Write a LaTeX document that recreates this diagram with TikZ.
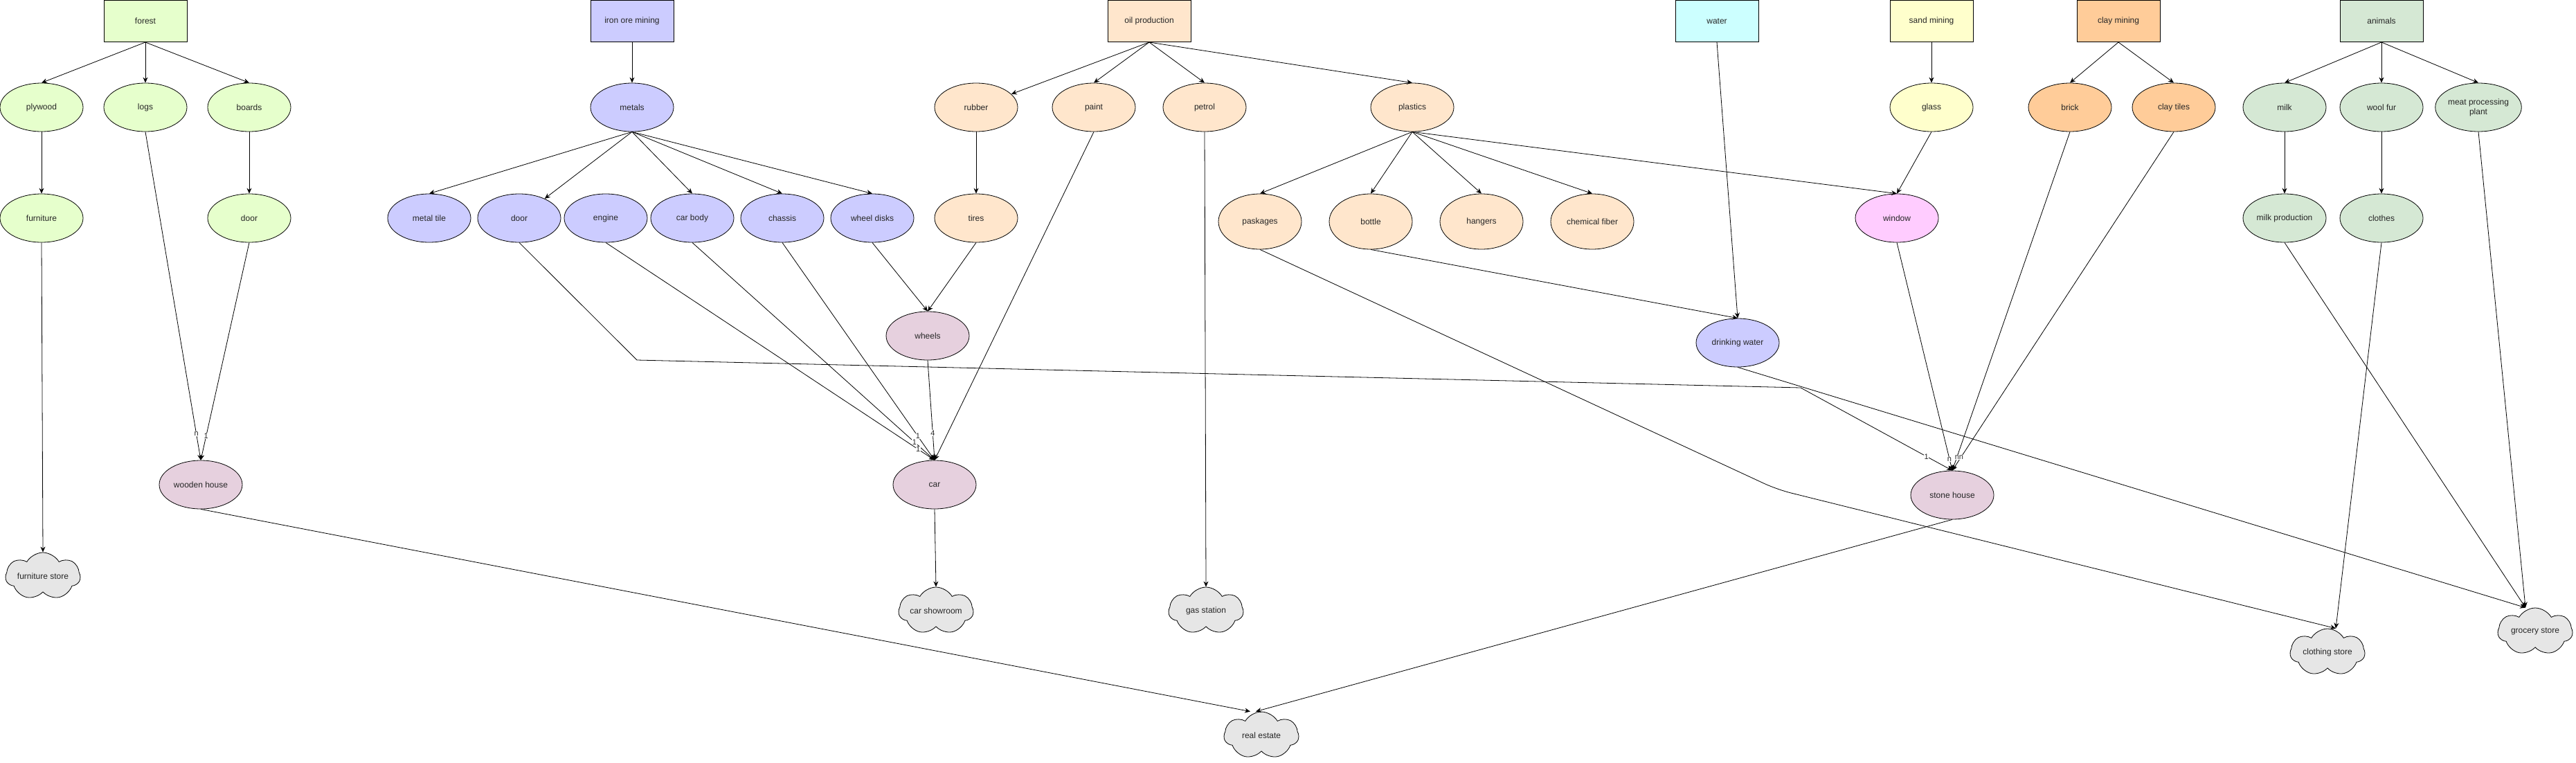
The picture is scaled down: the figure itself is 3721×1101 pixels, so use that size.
\documentclass[tikz,border=0pt]{standalone}
\usepackage{fontspec}
\setmainfont{Liberation Sans}
\usetikzlibrary{shapes.geometric,shapes.symbols,arrows.meta,calc}
\definecolor{cgreen}{HTML}{E6FFCC}
\definecolor{cblue}{HTML}{CCCCFF}
\definecolor{corange}{HTML}{FFE6CC}
\definecolor{ccyan}{HTML}{CCFFFF}
\definecolor{cyellow}{HTML}{FFFFCC}
\definecolor{cpink}{HTML}{FFCCFF}
\definecolor{cclay}{HTML}{FFCC99}
\definecolor{canimal}{HTML}{D5E8D4}
\definecolor{cmauve}{HTML}{E6D0DE}
\definecolor{cgrey}{HTML}{E6E6E6}
\begin{document}
\begin{tikzpicture}[x=1pt,y=-1pt,
  every node/.style={font=\fontsize{12}{14}\selectfont, text=black!85},
  srcbox/.style={draw, line width=1pt, minimum width=120pt, minimum height=60pt, inner sep=0pt},
  item/.style={draw, ellipse, line width=0.8pt, minimum width=120pt, minimum height=70pt, inner sep=0pt},
  tall/.style={item, minimum height=80pt},
  store/.style={draw, cloud, cloud puffs=7, cloud puff arc=120, cloud ignores aspect, fill=cgrey, line width=0.8pt, minimum width=108pt, minimum height=68pt, inner sep=0pt},
  link/.style={-{Stealth[length=8pt,width=7pt]}, line width=0.8pt},
  lbl/.style={fill=white, inner sep=0.5pt, font=\fontsize{11}{12}\selectfont}
]
\useasboundingbox (0,0) rectangle (3721,1101);

% forest group
\node[srcbox, fill=cgreen] (forest) at (210,30.5) {forest};
\node[item, fill=cgreen] (plywood) at (60,155) {plywood};
\node[item, fill=cgreen] (logs) at (210,155) {logs};
\node[item, fill=cgreen] (boards) at (360,155) {boards};
\node[item, fill=cgreen] (furniture) at (60,315) {furniture};
\node[item, fill=cgreen] (gdoor) at (360,315) {door};
\node[item, fill=cmauve] (whouse) at (290,700) {wooden house};
\node[store] (fstore) at (62,832) {furniture store};

% iron group
\node[srcbox, fill=cblue] (iron) at (913,30.5) {iron ore mining};
\node[item, fill=cblue] (metals) at (913,155) {metals};
\node[item, fill=cblue] (mtile) at (620,315) {metal tile};
\node[item, fill=cblue] (mdoor) at (750,315) {door};
\node[item, fill=cblue] (engine) at (875,315) {engine};
\node[item, fill=cblue] (carbody) at (1000,315) {car body};
\node[item, fill=cblue] (chassis) at (1130,315) {chassis};
\node[item, fill=cblue] (wdisks) at (1260,315) {wheel disks};
\node[item, fill=cmauve] (wheels) at (1340,485) {wheels};
\node[item, fill=cmauve] (car) at (1350,700) {car};
\node[store] (showroom) at (1352,882) {car showroom};
\node[store] (gas) at (1742,882) {gas station};
\node[store] (realestate) at (1822,1062) {real estate};

% oil group
\node[srcbox, fill=corange] (oil) at (1660,30.5) {oil production};
\node[item, fill=corange] (rubber) at (1410,155) {rubber};
\node[item, fill=corange] (paint) at (1580,155) {paint};
\node[item, fill=corange] (petrol) at (1740,155) {petrol};
\node[item, fill=corange] (plastics) at (2040,155) {plastics};
\node[item, fill=corange] (tires) at (1410,315) {tires};
\node[tall, fill=corange] (paskages) at (1820,320) {paskages};
\node[tall, fill=corange] (bottle) at (1980,320) {bottle};
\node[tall, fill=corange] (hangers) at (2140,320) {hangers};
\node[tall, fill=corange] (chemfiber) at (2300,320) {chemical fiber};

% water, sand, clay
\node[srcbox, fill=ccyan] (water) at (2480,30.5) {water};
\node[item, fill=cblue] (dwater) at (2510,495) {drinking water};
\node[srcbox, fill=cyellow] (sand) at (2790,30.5) {sand mining};
\node[item, fill=cyellow] (glass) at (2790,155) {glass};
\node[item, fill=cpink] (window) at (2740,315) {window};
\node[srcbox, fill=cclay] (clay) at (3060,30.5) {clay mining};
\node[item, fill=cclay] (brick) at (2990,155) {brick};
\node[item, fill=cclay] (claytiles) at (3140,155) {clay tiles};
\node[item, fill=cmauve] (stonehouse) at (2820,715) {stone house};

% animals
\node[srcbox, fill=canimal] (animals) at (3440,30.5) {animals};
\node[item, fill=canimal] (milk) at (3300,155) {milk};
\node[item, fill=canimal] (wool) at (3440,155) {wool fur};
\node[item, fill=canimal, align=center] (meat) at (3580,155) {meat processing\\plant};
\node[item, fill=canimal] (milkprod) at (3300,315) {milk production};
\node[item, fill=canimal] (clothes) at (3440,315) {clothes};
\node[store] (clothing) at (3362,942) {clothing store};
\node[store] (grocery) at (3662,912) {grocery store};

\coordinate (bendA) at (920,520);
\coordinate (bendB) at (2601,560);
\coordinate (bendC) at (2567,707);

% forest edges
\draw[link] (forest.south) -- (plywood.north);
\draw[link] (forest.south) -- (logs.north);
\draw[link] (forest.south) -- (boards.north);
\draw[link] (plywood.south) -- (furniture.north);
\draw[link] (boards.south) -- (gdoor.north);
\draw[link] (furniture.south) -- (fstore.north);
\draw[link] (logs.south) -- node[lbl,pos=0.92]{n} (whouse.north);
\draw[link] (gdoor.south) -- node[lbl,pos=0.89]{1} (whouse.north);
\draw[link] (whouse.south) -- ($(realestate.north)+(-16,0)$);

% iron edges
\draw[link] (iron.south) -- (metals.north);
\draw[link] (metals.south) -- (mtile.north);
\draw[link] (metals.south) -- (mdoor);
\draw[link] (metals.south) -- (carbody.north);
\draw[link] (metals.south) -- (chassis.north);
\draw[link] (metals.south) -- (wdisks.north);
\draw[link] (wdisks.south) -- (wheels.north);
\draw[link] (tires.south) -- (wheels.north);
\draw[link] (wheels.south) -- node[lbl,pos=0.73]{4} (car.north);
\draw[link] (chassis.south) -- node[lbl,pos=0.89]{1} (car.north);
\draw[link] (carbody.south) -- node[lbl,pos=0.917]{1} (car.north);
\draw[link] (engine.south) -- node[lbl,pos=0.95]{1} (car.north);
\draw[link] (paint.south) -- (car.north);
\draw[link] (car.south) -- (showroom.north);
\draw[link] (petrol.south) -- (gas.north);
\draw[link] (mdoor.south) -- (bendA) -- (bendB) -- node[lbl,pos=0.83]{1} (stonehouse.north);

% oil edges
\draw[link] (oil.south) -- (rubber);
\draw[link] (oil.south) -- (paint.north);
\draw[link] (oil.south) -- (petrol.north);
\draw[link] (oil.south) -- (plastics.north);
\draw[link] (rubber.south) -- (tires.north);
\draw[link] (plastics.south) -- (paskages.north);
\draw[link] (plastics.south) -- (bottle.north);
\draw[link] (plastics.south) -- (hangers.north);
\draw[link] (plastics.south) -- (chemfiber.north);
\draw[link] (plastics.south) -- (window.north);
\draw[link] (bottle.south) -- (dwater.north);
\draw[link, rounded corners=20pt] (paskages.south) -- (bendC) -- ($(clothing.north)+(12,0)$);

% water, sand, clay edges
\draw[link] (water.south) -- (dwater.north);
\draw[link] (dwater.south) -- ($(grocery.north)+(-14,0)$);
\draw[link] (sand.south) -- (glass.north);
\draw[link] (glass.south) -- (window.north);
\draw[link] (window.south) -- node[lbl,pos=0.95]{n} (stonehouse.north);
\draw[link] (clay.south) -- (brick.north);
\draw[link] (clay.south) -- (claytiles.north);
\draw[link] (brick.south) -- node[lbl,pos=0.96]{n} (stonehouse.north);
\draw[link] (claytiles.south) -- node[lbl,pos=0.96]{n} (stonehouse.north);
\draw[link] (stonehouse.south) -- ($(realestate.north)+(-8,0)$);

% animals edges
\draw[link] (animals.south) -- (milk.north);
\draw[link] (animals.south) -- (wool.north);
\draw[link] (animals.south) -- (meat.north);
\draw[link] (milk.south) -- (milkprod.north);
\draw[link] (wool.south) -- (clothes.north);
\draw[link] (milkprod.south) -- ($(grocery.north)+(-14,0)$);
\draw[link] (meat.south) -- ($(grocery.north)+(-14,0)$);
\draw[link] (clothes.south) -- ($(clothing.north)+(12,0)$);
\end{tikzpicture}
\end{document}
